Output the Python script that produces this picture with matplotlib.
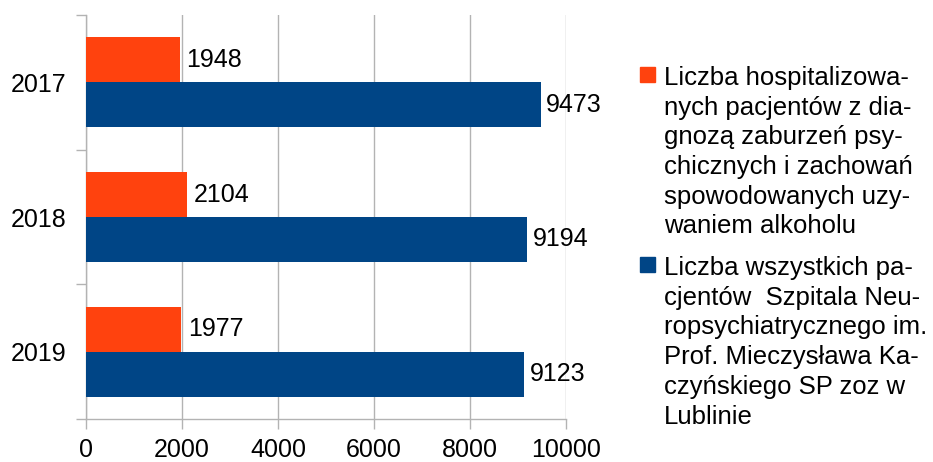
import matplotlib.pyplot as plt
from matplotlib.patches import Rectangle
import numpy as np

plt.rcParams['font.family'] = ['Liberation Sans', 'DejaVu Sans']

# dane
years = ["2017", "2018", "2019"]
alcohol = [1948, 2104, 1977]
all_patients = [9473, 9194, 9123]
labels = [
    "Liczba hospitalizowa-\nnych pacjentów z dia-\ngnozą zaburzeń psy-\nchicznych i zachowań\nspowodowanych uzy-\nwaniem alkoholu",
    "Liczba wszystkich pa-\ncjentów  Szpitala Neu-\nropsychiatrycznego im.\nProf. Mieczysława Ka-\nczyńskiego SP zoz w\nLublinie",
]
colors = ["#FF420E", "#004586"]

fig = plt.figure(figsize=(9.33, 4.62), dpi=100)
ax = fig.add_axes([86/933, 1-419/462, 480/933, 404/462])

y = np.arange(len(years))
h = 1/3
b1 = ax.barh(y - h/2, alcohol, height=h, color=colors[0], zorder=3)
b2 = ax.barh(y + h/2, all_patients, height=h, color=colors[1], zorder=3)
ax.bar_label(b1, padding=5, fontsize=18)
ax.bar_label(b2, padding=4, fontsize=18)

ax.set_xlim(0, 10000)
ax.set_ylim(2.5, -0.5)
ax.set_xticks(range(0, 10001, 2000))
ax.set_yticks(y)
ax.set_yticklabels(years)
ax.set_yticks([-0.5, 0.5, 1.5, 2.5], minor=True)
ax.tick_params(axis='y', which='major', length=0, pad=14, labelsize=18)
ax.tick_params(axis='y', which='minor', length=7.5, color='#b3b3b3', width=1)
ax.tick_params(axis='x', length=7.5, color='#b3b3b3', width=1, pad=6, labelsize=18)
ax.grid(axis='x', color='#b3b3b3', linewidth=1, zorder=0)
for s in ['top', 'right']:
    ax.spines[s].set_visible(False)
for s in ['left', 'bottom']:
    ax.spines[s].set_color('#b3b3b3')
    ax.spines[s].set_linewidth(1)

# legenda
for i, (lab, c) in enumerate(zip(labels, colors)):
    top = [67, 257][i]
    fig.patches.append(Rectangle((640/933, 1-(top+15)/462), 15/933, 15/462,
                                 transform=fig.transFigure, color=c))
    fig.text(664/933, 1-(top-1)/462, lab, fontsize=18.5, va='top', ha='left',
             linespacing=1.3)

fig.savefig("out.png", dpi=100)
